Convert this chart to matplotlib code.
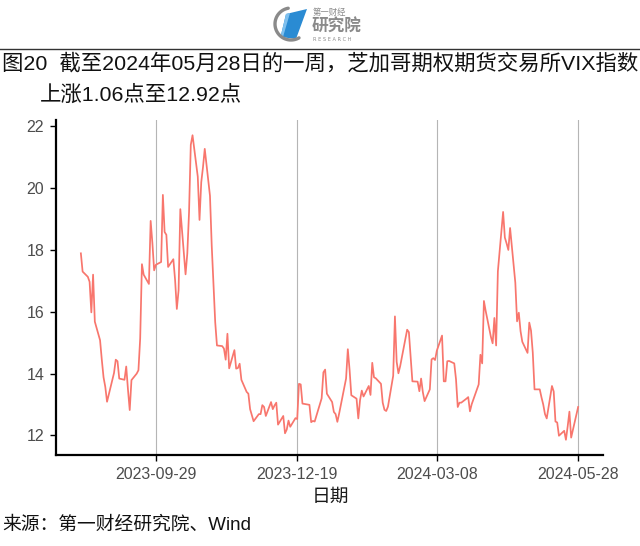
import numpy as np
import pandas as pd
import matplotlib
matplotlib.use("Agg")
import matplotlib.pyplot as plt
from matplotlib.patches import Polygon

# ---------------- data ----------------
start_date = "2023-08-17"
end_date = "2024-05-28"
us_holidays = ["2023-09-04", "2023-11-23", "2023-12-25", "2024-01-01",
               "2024-01-15", "2024-02-19", "2024-03-29", "2024-05-27"]

vix_values = [
    # 2023-08 (from 17th)
    17.89, 17.30, 17.13, 16.97, 15.98, 17.20, 15.68, 15.08, 14.45, 13.88, 13.57,
    # 2023-09
    13.09, 14.02, 14.45, 14.40, 13.84, 13.80, 14.23, 13.48, 12.82, 13.79,
    14.00, 14.11, 15.14, 17.54, 17.20, 16.90, 18.94, 18.22, 17.34, 17.52,
    # 2023-10
    17.61, 19.78, 18.58, 18.49, 17.45, 17.70, 17.03, 16.09, 16.69, 19.32, 17.21,
    17.88, 19.22, 21.40, 21.71, 20.37, 18.97, 20.19, 20.68, 21.27, 19.75, 18.14,
    # 2023-11
    16.87, 15.66, 14.91, 14.89, 14.81, 14.45, 15.29, 14.17, 14.76, 14.16, 14.18,
    14.32, 13.80, 13.41, 13.35, 12.85, 12.46, 12.69, 12.69, 12.98, 12.92,
    # 2023-12
    12.63, 13.08, 12.85, 12.97, 13.06, 12.35, 12.63, 12.07, 12.19, 12.48,
    12.28, 12.56, 12.53, 13.67, 13.65, 13.03, 12.99, 12.43, 12.47, 12.45,
    # 2024-01
    13.20, 14.04, 14.13, 13.35, 13.08, 12.76, 12.69, 12.44, 12.70, 13.84, 14.79,
    14.13, 13.30, 13.19, 12.55, 13.14, 13.45, 13.26, 13.60, 13.31, 14.35,
    # 2024-02
    13.88, 13.85, 13.67, 13.06, 12.83, 12.79, 12.93, 13.93, 15.85, 14.38,
    14.01, 14.24, 15.42, 15.34, 14.54, 13.75, 13.74, 13.43, 13.84, 13.40,
    # 2024-03
    13.11, 13.49, 14.46, 14.50, 14.44, 14.74, 15.23, 13.75, 13.75, 14.40,
    14.41, 14.33, 13.82, 12.92, 13.06, 13.06, 13.19, 13.24, 12.78, 13.01,
    # 2024-04
    13.65, 14.61, 14.33, 16.35, 16.03, 15.19, 14.98, 15.80, 14.91, 17.31, 19.23,
    18.40, 18.21, 18.00, 18.71, 16.94, 15.69, 15.97, 15.37, 15.03, 14.67, 15.65,
    # 2024-05
    15.39, 14.68, 13.49, 13.49, 13.23, 13.00, 12.69, 12.55, 13.60, 13.42,
    12.45, 12.42, 11.99, 12.15, 11.86, 12.29, 12.77, 11.93, 12.92,
]

x_tick_labels = ["2023-09-29", "2023-12-19", "2024-03-08", "2024-05-28"]
y_ticks = [12, 14, 16, 18, 20, 22]

title_line1 = "图20  截至2024年05月28日的一周，芝加哥期权期货交易所VIX指数"
title_line2 = "上涨1.06点至12.92点"
x_label = "日期"
source_text = "来源：第一财经研究院、Wind"

dates = pd.bdate_range(start_date, end_date, freq="C", holidays=us_holidays)
assert len(dates) == len(vix_values), (len(dates), len(vix_values))

# ---------------- figure ----------------
W, H = 640, 546
fig = plt.figure(figsize=(W / 100, H / 100), dpi=100)
fig.patch.set_facecolor("white")

def fx(px):
    return px / W

def fy(py):
    return 1 - py / H

CJK = ["Liberation Sans", "Noto Sans CJK SC"]

ax = fig.add_axes([fx(56), fy(455), fx(603) - fx(56), fy(120) - fy(455)])
ax.plot(dates, vix_values, color="#F8766D", lw=1.25, zorder=3)

# ggplot-like expansion (5%)
d0, d1 = dates.min(), dates.max()
span = d1 - d0
ax.set_xlim(d0 - span * 0.05, d1 + span * 0.05)
vmin, vmax = min(vix_values), max(vix_values)
vr = vmax - vmin
ax.set_ylim(vmin - 0.05 * vr, vmax + 0.05 * vr)

ax.set_xticks(pd.to_datetime(x_tick_labels))
ax.set_xticklabels(x_tick_labels)
ax.set_yticks(y_ticks)
ax.set_yticklabels([str(v) for v in y_ticks])

ax.grid(axis="x", color="#b5b5b5", lw=0.8, zorder=1)
ax.grid(axis="y", visible=False)
for s in ["top", "right"]:
    ax.spines[s].set_visible(False)
for s in ["left", "bottom"]:
    ax.spines[s].set_color("black")
    ax.spines[s].set_linewidth(1.6)
ax.tick_params(axis="both", direction="out", length=4.5, width=1.0,
               color="black", labelcolor="#4d4d4d", labelsize=11.5)
ax.tick_params(axis="x", pad=4)
ax.tick_params(axis="y", pad=4)
for lab in ax.get_xticklabels() + ax.get_yticklabels():
    lab.set_family("Liberation Sans")

# x-axis title
fig.text(fx(330), fy(497), x_label, ha="center", va="center",
         fontsize=13.5, family=CJK, color="#1a1a1a")

# ---------------- header ----------------
ov = fig.add_axes([0, 0, 1, 1], zorder=10)
ov.set_xlim(0, W)
ov.set_ylim(H, 0)
ov.axis("off")
ov.patch.set_alpha(0)

# separator line
ov.plot([0, W], [49, 49], color="#333333", lw=1.0)

# logo icon: grey arc + blue parallelogram
cx, cy, r = 291, 24, 16
t = np.deg2rad(np.linspace(100, 300, 60))
ov.plot(cx + r * np.cos(t), cy - r * np.sin(t), color="#8a8a8a", lw=2.4,
        solid_capstyle="round")
ov.add_patch(Polygon([[286, 14], [307, 9], [296, 39], [280.5, 37]],
                     closed=True, facecolor="#2a8bd3", edgecolor="none"))
ov.add_patch(Polygon([[286, 14], [290, 13], [283, 37], [280.5, 37]],
                     closed=True, facecolor="#7fc0ee", edgecolor="none"))
ov.text(313, 12.5, "第一财经", ha="left", va="center", fontsize=6,
        family=CJK, color="#8a8a8a")
ov.text(312, 27, "研究院", ha="left", va="center", fontsize=12,
        family=CJK, color="#8a8a8a", fontweight="bold")
ov.text(313, 39.5, "R E S E A R C H", ha="left", va="center", fontsize=3.6,
        family="DejaVu Sans", color="#8a8a8a")

# titles
ov.text(2, 63, title_line1, ha="left", va="center", fontsize=15.4,
        family=CJK, color="#111111")
ov.text(40, 95, title_line2, ha="left", va="center", fontsize=15.4,
        family=CJK, color="#111111")

# source
ov.text(2, 525, source_text, ha="left", va="center", fontsize=13.5,
        family=CJK, color="#111111")

fig.savefig("out.png", dpi=100, facecolor="white")
